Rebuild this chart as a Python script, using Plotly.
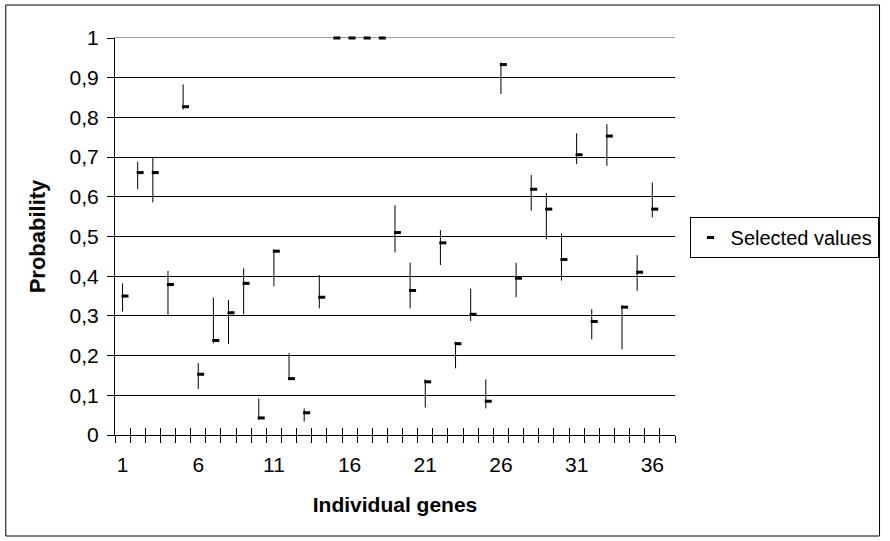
import plotly.graph_objects as go

# ---- data ----
genes = list(range(1, 38))
high = [0.382, 0.688, 0.701, 0.413, 0.883, 0.181, 0.346, 0.340, 0.420, 0.092,
        0.468, 0.206, 0.067, 0.403, 1.0, 1.0, 1.0, 1.0, 0.579, 0.434,
        0.140, 0.516, 0.235, 0.368, 0.140, 0.938, 0.434, 0.655, 0.610, 0.508,
        0.760, 0.317, 0.783, 0.327, 0.453, 0.636, None]
low = [0.311, 0.619, 0.586, 0.300, 0.820, 0.116, 0.231, 0.229, 0.304, 0.038,
       0.375, 0.140, 0.034, 0.319, 1.0, 1.0, 1.0, 1.0, 0.460, 0.319,
       0.069, 0.428, 0.168, 0.287, 0.067, 0.859, 0.347, 0.565, 0.493, 0.389,
       0.683, 0.241, 0.678, 0.216, 0.363, 0.548, None]
selected = [0.350, 0.661, 0.661, 0.379, 0.827, 0.153, 0.238, 0.308, 0.382, 0.043,
            0.463, 0.142, 0.056, 0.347, 1.0, 1.0, 1.0, 1.0, 0.510, 0.364,
            0.134, 0.484, 0.230, 0.304, 0.085, 0.933, 0.395, 0.619, 0.569, 0.442,
            0.706, 0.286, 0.753, 0.322, 0.410, 0.569, None]
tick_genes = [1, 6, 11, 16, 21, 26, 31, 36]
tick_labels = ["1", "6", "11", "16", "21", "26", "31", "36"]

# ---- layout constants ----
W, H = 890, 541
ML, MR, MT, MB = 115, 211, 38, 106
FONT = "Liberation Sans, Arial, sans-serif"
FS = 21

line_x, line_y = [], []
for g, h, l in zip(genes, high, low):
    if h is None or l is None:
        continue
    line_x += [g, g, None]
    line_y += [l, h, None]

fig = go.Figure()
fig.add_trace(go.Scatter(
    x=line_x, y=line_y, mode="lines",
    line=dict(color="black", width=1),
    showlegend=False, hoverinfo="skip", cliponaxis=False,
    xaxis="x", yaxis="y"))
# empty helper traces so the tick-only overlay axes get drawn
for ax in ("x2", "x3"):
    fig.add_trace(go.Scatter(x=genes, y=[None] * len(genes), mode="lines",
                             showlegend=False, hoverinfo="skip",
                             xaxis=ax, yaxis="y"))
fig.add_trace(go.Scatter(
    x=genes, y=selected, mode="markers", name="Selected values",
    marker=dict(symbol="line-ew", size=5, color="black",
                line=dict(width=3, color="black")),
    cliponaxis=False, xaxis="x4", yaxis="y"))

n = len(genes)
rng = [0.5, n + 0.5]
bounds = [k + 0.5 for k in range(0, n + 1)]
shift = 0.16

pw = W - ML - MR
ph = H - MT - MB

def px(xp):
    return (xp - ML) / pw

def py(yp):
    return (H - MB - yp) / ph

fig.update_layout(
    width=W, height=H,
    margin=dict(l=ML, r=MR, t=MT, b=MB, pad=0),
    paper_bgcolor="white", plot_bgcolor="white",
    font=dict(family=FONT, size=FS, color="black"),
    separators=",.",
    xaxis=dict(
        range=rng, showline=True, linecolor="black", linewidth=1,
        tickmode="array", tickvals=tick_genes, ticktext=tick_labels,
        ticks="outside", ticklen=11, tickcolor="rgba(0,0,0,0)",
        showgrid=False, zeroline=False, automargin=False,
        tickfont=dict(family=FONT, size=FS, color="black"),
        title=dict(text="<b>Individual genes</b>", standoff=22,
                   font=dict(family=FONT, size=FS, color="black")),
    ),
    xaxis2=dict(
        overlaying="x", anchor="y", side="bottom", range=rng,
        tickmode="array", tickvals=bounds, ticks="outside", ticklen=7,
        tickcolor="black", tickwidth=1, showticklabels=False,
        showgrid=False, zeroline=False, showline=False, automargin=False),
    xaxis3=dict(
        overlaying="x", anchor="y", side="bottom", range=rng,
        tickmode="array", tickvals=bounds, ticks="inside", ticklen=7,
        tickcolor="black", tickwidth=1, showticklabels=False,
        showgrid=False, zeroline=False, showline=False, automargin=False),
    xaxis4=dict(
        overlaying="x", anchor="y", side="top",
        range=[rng[0] - shift, rng[1] - shift],
        showline=True, linecolor="#9a9a9a", linewidth=1,
        layer="below traces",
        ticks="", showticklabels=False, showgrid=False, zeroline=False,
        automargin=False),
    yaxis=dict(
        range=[0, 1], tickmode="linear", tick0=0, dtick=0.1,
        showgrid=True, gridcolor="black", gridwidth=1,
        showline=True, linecolor="black", linewidth=1,
        ticks="outside", ticklen=7, tickcolor="black",
        ticklabelstandoff=4,
        zeroline=False, automargin=False,
        tickfont=dict(family=FONT, size=FS, color="black"),
        title=dict(text="<b>Probability</b>", standoff=17,
                   font=dict(family=FONT, size=FS + 1, color="black")),
    ),
    legend=dict(
        x=px(884), y=py(217), xanchor="right", yanchor="top",
        bordercolor="black", borderwidth=1, bgcolor="white",
        font=dict(family=FONT, size=FS - 1, color="black"),
        itemwidth=30, tracegroupgap=0,
    ),
    shapes=[dict(type="rect", xref="paper", yref="paper",
                 x0=px(5), x1=px(885), y0=py(536), y1=py(5),
                 line=dict(color="black", width=1), layer="below")],
)

fig.write_html("out.html",
               config={"displayModeBar": False},
               post_script="document.body.style.margin='0';")
